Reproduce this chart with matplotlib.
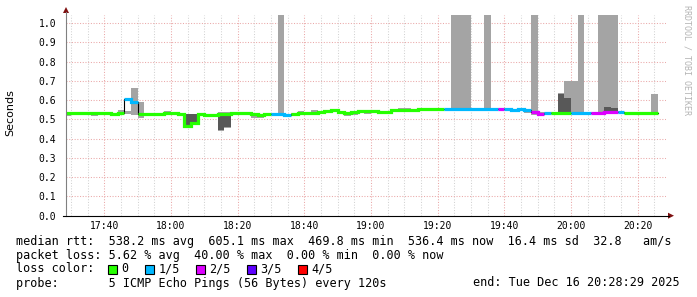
import numpy as np
import matplotlib
matplotlib.use('Agg')
import matplotlib.pyplot as plt
from matplotlib.patches import Rectangle, Polygon
from matplotlib.lines import Line2D

# ---------------- data ----------------
bin_start_min = 17 * 60 + 28          # first 120 s step starts 17:28
step_min = 2
view_start = 17 * 60 + 28 + 29 / 60   # 17:28:29
view_end = 20 * 60 + 28 + 29 / 60     # 20:28:29

median = [0.531, 0.531, 0.533, 0.533, 0.531, 0.531, 0.533, 0.529, 0.532, 0.604,
          0.588, 0.526, 0.528, 0.528, 0.530, 0.532, 0.532, 0.527, 0.467, 0.479,
          0.527, 0.524, 0.521, 0.527, 0.528, 0.531, 0.533, 0.533, 0.527, 0.524,
          0.527, 0.527, 0.528, 0.524, 0.530, 0.532, 0.532, 0.533, 0.536, 0.542,
          0.548, 0.538, 0.535, 0.536, 0.543, 0.543, 0.543, 0.538, 0.538, 0.546,
          0.550, 0.550, 0.550, 0.555, 0.555, 0.552, 0.552, 0.552, 0.555, 0.555,
          0.555, 0.552, 0.552, 0.552, 0.552, 0.555, 0.555, 0.548, 0.555, 0.548,
          0.540, 0.530, 0.535, 0.535, 0.535, 0.535, 0.535, 0.535, 0.535, 0.535,
          0.535, 0.537, 0.537, 0.537, 0.535, 0.535, 0.535, 0.535, 0.535]

# lost pings out of 5 for each step
loss = [0, 0, 0, 0, 0, 0, 0, 0, 0, 1,
        1, 0, 0, 0, 0, 0, 0, 0, 0, 0,
        0, 0, 0, 0, 0, 0, 0, 0, 0, 0,
        0, 1, 1, 1, 0, 0, 0, 0, 0, 0,
        0, 0, 0, 0, 0, 0, 0, 0, 0, 0,
        0, 0, 0, 0, 0, 0, 0, 1, 1, 1,
        1, 1, 1, 1, 1, 2, 1, 1, 1, 1,
        2, 2, 1, 0, 0, 0, 1, 1, 1, 2,
        2, 2, 2, 1, 0, 0, 0, 0, 0]

# outer smoke (min .. max ping); 1.2 = off the top of the chart
smoke_lo = [0.515, 0.527, 0.528, 0.525, 0.519, 0.526, 0.528, 0.526, 0.528, 0.526,
            0.523, 0.509, 0.524, 0.524, 0.526, 0.528, 0.522, 0.517, 0.462, 0.476,
            0.522, 0.519, 0.510, 0.437, 0.455, 0.526, 0.528, 0.528, 0.505, 0.505,
            0.522, 0.523, 0.530, 0.520, 0.518, 0.524, 0.526, 0.528, 0.531, 0.537,
            0.542, 0.533, 0.517, 0.520, 0.538, 0.530, 0.535, 0.531, 0.531, 0.538,
            0.543, 0.543, 0.543, 0.547, 0.547, 0.545, 0.545, 0.547, 0.555, 0.555,
            0.555, 0.547, 0.547, 0.552, 0.548, 0.550, 0.550, 0.543, 0.550, 0.535,
            0.525, 0.526, 0.531, 0.531, 0.535, 0.535, 0.535, 0.535, 0.531, 0.531,
            0.535, 0.535, 0.535, 0.533, 0.531, 0.531, 0.531, 0.531, 0.535]
smoke_hi = [0.535, 0.537, 0.537, 0.535, 0.535, 0.536, 0.537, 0.533, 0.546, 0.543,
            0.664, 0.592, 0.532, 0.532, 0.535, 0.545, 0.540, 0.531, 0.530, 0.530,
            0.531, 0.528, 0.525, 0.540, 0.540, 0.535, 0.537, 0.537, 0.531, 0.528,
            0.531, 0.531, 1.2, 0.528, 0.534, 0.542, 0.537, 0.548, 0.540, 0.546,
            0.552, 0.542, 0.539, 0.540, 0.547, 0.548, 0.545, 0.540, 0.540, 0.550,
            0.558, 0.558, 0.556, 0.559, 0.559, 0.556, 0.556, 0.556, 1.2, 1.2,
            1.2, 0.556, 0.558, 1.2, 0.557, 0.559, 0.559, 0.552, 0.559, 0.552,
            1.2, 0.536, 0.540, 0.540, 0.635, 0.700, 0.700, 1.2, 0.540, 0.540,
            1.2, 1.2, 1.2, 0.541, 0.539, 0.539, 0.539, 0.539, 0.632]

# inner smoke (2nd .. 4th ping) where it shows outside the median line
nan = np.nan
inner_lo = [nan] * 89
inner_hi = [nan] * 89
for k, lo, hi in [(18, 0.470, 0.526), (19, 0.483, 0.526), (23, 0.445, 0.520),
                  (24, 0.462, 0.520), (39, 0.536, 0.540), (40, 0.537, 0.543),
                  (74, 0.538, 0.630), (75, 0.538, 0.612), (81, 0.535, 0.566),
                  (82, 0.535, 0.559)]:
    inner_lo[k] = lo
    inner_hi[k] = hi

loss_labels = ['0', '1/5', '2/5', '3/5', '4/5']
loss_colors = ['#26ff00', '#00b8ff', '#dd00ff', '#5e00ff', '#ff0000']

xtick_labels = ['17:40', '18:00', '18:20', '18:40', '19:00', '19:20', '19:40', '20:00', '20:20']
ytick_values = [0.0, 0.1, 0.2, 0.3, 0.4, 0.5, 0.6, 0.7, 0.8, 0.9, 1.0]

legend_rtt = "median rtt:  538.2 ms avg  605.1 ms max  469.8 ms min  536.4 ms now  16.4 ms sd  32.8   am/s"
legend_loss = "packet loss: 5.62 % avg  40.00 % max  0.00 % min  0.00 % now"
legend_probe = "probe:       5 ICMP Echo Pings (56 Bytes) every 120s"
legend_end = "end: Tue Dec 16 20:28:29 2025"

# ---------------- figure ----------------
W, H = 697, 297
fig = plt.figure(figsize=(W / 100, H / 100), dpi=100)
fig.patch.set_facecolor('white')
MONO = 'DejaVu Sans Mono'


def fx(x):
    return x / W


def fy(y):
    return 1 - y / H


ax_l, ax_r, ax_t, ax_b = 65.9, 665.9, 15.0, 215.7
ax = fig.add_axes([fx(ax_l), fy(ax_b), (ax_r - ax_l) / W, (ax_b - ax_t) / H])
ax.set_facecolor('white')
ax.set_xlim(view_start, view_end)
ax.set_ylim(0, (ax_b - ax_t) / 192.7)
for s in ax.spines.values():
    s.set_visible(False)

# grid
minor_t = np.arange(17 * 60 + 30, view_end, 5)
major_t = np.arange(17 * 60 + 40, view_end, 20)
for t in minor_t:
    if (t - (17 * 60 + 40)) % 20 != 0:
        ax.axvline(t, color='#d2d2d2', lw=0.75, ls=(0, (1, 1.6)), zorder=0)
for t in major_t:
    ax.axvline(t, color='#eaa8a8', lw=0.75, ls=(0, (1, 1.6)), zorder=0)
for v in ytick_values[1:]:
    ax.axhline(v, color='#eaa8a8', lw=0.75, ls=(0, (1, 1.6)), zorder=0)

n = len(median)
edges = bin_start_min + step_min * np.arange(n + 1)
left = edges[:-1]
med = np.array(median)
slo, shi = np.array(smoke_lo), np.array(smoke_hi)
ilo, ihi = np.array(inner_lo), np.array(inner_hi)

ax.bar(left, shi - slo, bottom=slo, width=step_min, align='edge',
       color='#a4a4a4', linewidth=0, zorder=1)
ax.bar(left, ihi - ilo, bottom=ilo, width=step_min, align='edge',
       color='#585858', linewidth=0, zorder=2)

# thin black median
ax.step(edges, np.append(med, med[-1]), where='post', color='#000000', lw=0.8, zorder=3)

# coloured median by loss
k = 0
while k < n:
    j = k
    while j + 1 < n and loss[j + 1] == loss[k]:
        j += 1
    xs = edges[k:j + 2]
    ys = np.append(med[k:j + 1], med[j])
    ax.step(xs, ys, where='post', color=loss_colors[loss[k]], lw=2.3,
            solid_capstyle='butt', solid_joinstyle='miter', zorder=4)
    k = j + 1

ax.set_xticks(major_t)
ax.set_xticklabels(xtick_labels, fontfamily=MONO, fontsize=7)
ax.set_yticks(ytick_values)
ax.set_yticklabels(['%.1f' % v for v in ytick_values], fontfamily=MONO, fontsize=7)
ax.tick_params(axis='both', length=0)
ax.tick_params(axis='y', pad=7)
ax.tick_params(axis='x', pad=4)

# axes lines and arrows
fig.add_artist(Line2D([fx(66), fx(66)], [fy(215.7), fy(12)], color='#808080', lw=0.8))
fig.add_artist(Line2D([fx(63), fx(669)], [fy(215.7), fy(215.7)], color='#000000', lw=0.8))
fig.add_artist(Polygon([[fx(63), fy(13)], [fx(69), fy(13)], [fx(66), fy(7)]],
                       closed=True, color='#7f1010', lw=0))
fig.add_artist(Polygon([[fx(668), fy(212.7)], [fx(668), fy(218.7)], [fx(674), fy(215.7)]],
                       closed=True, color='#7f1010', lw=0))

# labels
fig.text(fx(10), fy(113), 'Seconds', rotation=90, ha='center', va='center',
         fontsize=8, family='DejaVu Sans')
fig.text(fx(687), fy(5), 'RRDTOOL / TOBI OETIKER', rotation=270, ha='center', va='top',
         fontsize=6, family=MONO, color='#b4b4b4')

fs = 8.5
fig.text(fx(16), fy(241), legend_rtt, ha='left', va='center', fontsize=fs, family=MONO)
fig.text(fx(16), fy(255), legend_loss, ha='left', va='center', fontsize=fs, family=MONO)
fig.text(fx(16), fy(269), 'loss color:', ha='left', va='center', fontsize=fs, family=MONO)
box_x = [108, 145, 196, 247, 298]
for bx, lab, col in zip(box_x, loss_labels, loss_colors):
    fig.add_artist(Rectangle((fx(bx), fy(273.5)), 8.5 / W, 8.5 / H, facecolor=col,
                             edgecolor='#000000', lw=0.8))
    fig.text(fx(bx + 13.5), fy(269), lab, ha='left', va='center', fontsize=fs, family=MONO)
fig.text(fx(16), fy(283), legend_probe, ha='left', va='center', fontsize=fs, family=MONO)
fig.text(fx(680), fy(283), legend_end, ha='right', va='center', fontsize=fs, family=MONO)

fig.savefig('out.png', dpi=100)
